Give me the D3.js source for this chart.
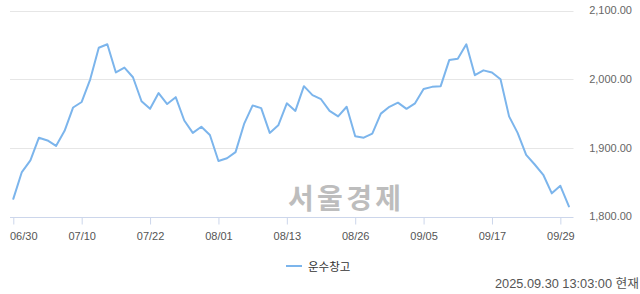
<!DOCTYPE html>
<html><head><meta charset="utf-8">
<script src="https://cdn.jsdelivr.net/npm/d3@7"></script>
<style>
html,body{margin:0;padding:0;background:#fff;overflow:hidden;}
svg{display:block;}
</style></head>
<body>
<script>
const dates = ["06/30","07/01","07/02","07/03","07/04","07/07","07/08","07/09","07/10",
"07/11","07/14","07/15","07/16","07/17","07/18","07/21","07/22",
"07/23","07/24","07/25","07/28","07/29","07/30","07/31","08/01",
"08/04","08/05","08/06","08/07","08/08","08/11","08/12","08/13",
"08/14","08/18","08/19","08/20","08/21","08/22","08/25","08/26",
"08/27","08/28","08/29","09/01","09/02","09/03","09/04","09/05",
"09/08","09/09","09/10","09/11","09/12","09/15","09/16","09/17",
"09/18","09/19","09/22","09/23","09/24","09/25","09/26","09/29",
"09/30"];
const values = [1826,1865,1882,1915,1911,1903,1925,1959,1967,
2000,2046,2051,2010,2017,2003,1968,1957,
1980,1964,1974,1940,1922,1931,1919,1881,
1885,1894,1935,1962,1958,1922,1933,1965,
1954,1990,1977,1971,1954,1946,1960,1917,
1915,1921,1950,1960,1966,1957,1965,1986,
1989,1990,2028,2030,2051,2006,2013,2010,
2000,1946,1922,1890,1876,1861,1834,1845,
1815];
const xTicks = ["06/30","07/10","07/22","08/01","08/13","08/26","09/05","09/17","09/29"];
const yTicks = [1800,1900,2000,2100];
const seriesName = "운수창고";
const watermark = "서울경제";
const stamp = "2025.09.30 13:03:00 현재";

const W = 640, H = 294;
const plotL = 10, plotR = 573.5, plotT = 10.6, plotB = 216.7;
const svg = d3.select("body").append("svg").attr("width", W).attr("height", H);
const font = "'Liberation Sans', 'Noto Sans CJK KR', sans-serif";

const x = d3.scalePoint().domain(dates).range([13.3, 568.9]);
const y = d3.scaleLinear().domain([1800, 2100]).range([plotB, plotT]);

// watermark
svg.append("text").attr("x", 288).attr("y", 209)
  .attr("font-family", "'Noto Sans CJK KR', sans-serif").attr("font-weight", "bold")
  .attr("font-size", 28).attr("fill", "#bdbdbd").attr("textLength", 113)
  .text(watermark);

// grid
svg.append("g").selectAll("line").data(yTicks.filter(d => d !== 1800)).join("line")
  .attr("x1", plotL).attr("x2", plotR)
  .attr("y1", d => Math.round(y(d)) + 0.5).attr("y2", d => Math.round(y(d)) + 0.5)
  .attr("stroke", "#e6e6e6").attr("stroke-width", 1);

// right axis labels
svg.append("g").selectAll("text").data(yTicks).join("text")
  .attr("x", 632).attr("y", d => y(d) + 3.5)
  .attr("text-anchor", "end").attr("font-family", font).attr("font-size", 11)
  .attr("fill", "#666")
  .text(d => d3.format(",.2f")(d));

// bottom axis
const xAxis = d3.axisBottom(x).tickValues(xTicks).tickSize(7).tickPadding(5);
const gx = svg.append("g").attr("transform", `translate(0,${Math.round(plotB) + 0.5})`).call(xAxis);
gx.select(".domain").remove();
gx.append("line").attr("x1", plotL).attr("x2", plotR).attr("y1", 0).attr("y2", 0)
  .attr("stroke", "#ccd6eb");
gx.selectAll(".tick line").attr("stroke", "#ccd6eb");
gx.selectAll(".tick text").attr("font-family", font).attr("font-size", 11).attr("fill", "#555")
  .attr("dy", "0.95em");
gx.selectAll(".tick text").each(function() {
  const bb = this.getBBox();
  const t = d3.select(this.parentNode).attr("transform");
  const tx = +t.match(/translate\(([-\d.]+)/)[1];
  if (tx + bb.x < plotL) d3.select(this).attr("text-anchor", "start").attr("x", plotL - tx);
});

// line
const line = d3.line().x((d, i) => x(dates[i])).y(d => y(d));
svg.append("path").datum(values).attr("d", line)
  .attr("fill", "none").attr("stroke", "#7cb5ec").attr("stroke-width", 2)
  .attr("stroke-linejoin", "round").attr("stroke-linecap", "round");

// legend
svg.append("line").attr("x1", 286).attr("x2", 302).attr("y1", 266).attr("y2", 266)
  .attr("stroke", "#7cb5ec").attr("stroke-width", 2);
svg.append("text").attr("x", 308).attr("y", 270.5)
  .attr("font-family", "'Noto Sans CJK KR', sans-serif").attr("font-size", 11.5).attr("fill", "#333")
  .text(seriesName);

// timestamp
svg.append("text").attr("x", 495).attr("y", 287.5)
  .attr("font-family", font).attr("font-size", 12.5).attr("fill", "#555")
  .attr("textLength", 144).attr("lengthAdjust", "spacingAndGlyphs")
  .text(stamp);
</script>
</body></html>
